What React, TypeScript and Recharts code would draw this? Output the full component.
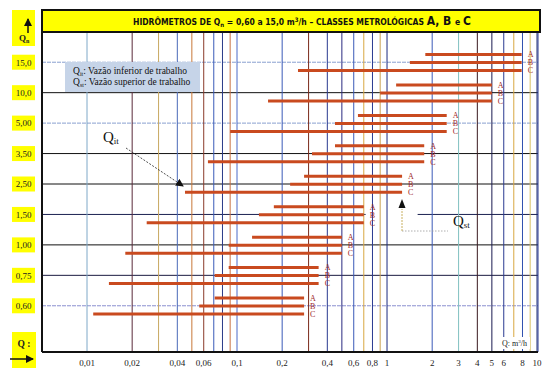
import { BarChart, Bar, XAxis, YAxis, CartesianGrid, LabelList } from 'recharts'

// Qn rows, top to bottom
const qnLabels = ['15,0', '10,0', '5,00', '3,50', '2,50', '1,50', '1,00', '0,75', '0,60']
// lower working flow (Qit) per class, m³/h
const classAStart = [1.8, 1.15, 0.64, 0.45, 0.28, 0.176, 0.126, 0.088, 0.071]
const classBStart = [1.42, 0.9, 0.45, 0.316, 0.226, 0.14, 0.088, 0.071, 0.056]
const classCStart = [0.255, 0.161, 0.09, 0.064, 0.045, 0.025, 0.018, 0.014, 0.011]
// upper working flow (Qst), same for A, B and C
const workEnd = [7.9, 5.0, 2.5, 1.77, 1.26, 0.7, 0.5, 0.35, 0.28]

// labelled ticks and the full log grid
const xLabels = [0.01, 0.02, 0.04, 0.06, 0.1, 0.2, 0.4, 0.6, 0.8, 1, 2, 3, 4, 5, 6, 8, 10]
const gridValues = [
  0.01, 0.02, 0.03, 0.04, 0.05, 0.06, 0.07, 0.08, 0.09,
  0.1, 0.2, 0.3, 0.4, 0.5, 0.6, 0.7, 0.8, 0.9,
  1, 2, 3, 4, 5, 6, 7, 8, 9, 10,
]
const gridColors = [
  '#7fa8c8', '#5a2a3a', '#c8a860', '#4a6ab8', '#c87838', '#8a3a2a', '#3a5ab8', '#2a3a88', '#c87040',
  '#4a6ac8', '#3a5ab8', '#7a2a1a', '#2a3a90', '#2a2a80', '#3a5ab8', '#d8a840', '#2a3a90', '#c8a050',
  '#1a2a80', '#3a5ab8', '#80c0c0', '#3a1a20', '#1a1a50', '#2a3a90', '#d8a840', '#3050b0', '#d8c060', '#1a2a70',
]
const rowLineColors = ['#8aa0d0', '#111111', '#8aa0d0', '#111111', '#111111', '#1a2050', '#111111', '#1a1a40', '#8a90d0']
const rowLineDashed = [true, false, true, false, false, false, false, false, true]

const data = qnLabels.map((qn, i) => ({
  qn,
  A: [classAStart[i], workEnd[i]],
  B: [classBStart[i], workEnd[i]],
  C: [classCStart[i], workEnd[i]],
}))

const X_MIN = 0.005012
const X_MAX = 10.15
const serif = "'Liberation Serif', 'DejaVu Serif', serif"
const barColor = '#c94a1f'
const letterColor = '#a0282a'
// the 1,50 row line is broken around the Qst note
const gapFrom = 0.72
const gapTo = 1.6

function QnTick(props: any) {
  const { y, payload } = props
  return (
    <g>
      <rect x={12} y={y - 7.5} width={23} height={15} fill="#ffff00" />
      <text x={23.5} y={y + 3.3} textAnchor="middle" fontSize={9} fontFamily={serif} fill="#222">
        {payload.value}
      </text>
    </g>
  )
}

const fmt = (v: number) => (xLabels.includes(v) ? String(v).replace('.', ',') : '')

function VLine(p: any) {
  return <line x1={p.x1} y1={p.y1} x2={p.x2} y2={p.y2} stroke={gridColors[p.index] || '#2a3a90'} strokeWidth={1} />
}

function HLine(p: any) {
  const i = p.index
  const stroke = rowLineColors[i] || '#111'
  const dash = rowLineDashed[i] ? '4 1' : undefined
  if (qnLabels[i] === '1,50') {
    const span = Math.log10(X_MAX) - Math.log10(X_MIN)
    const at = (v: number) => p.x1 + ((p.x2 - p.x1) * (Math.log10(v) - Math.log10(X_MIN))) / span
    return (
      <g>
        <line x1={p.x1} y1={p.y1} x2={at(gapFrom)} y2={p.y2} stroke={stroke} strokeWidth={1} />
        <line x1={at(gapTo)} y1={p.y1} x2={p.x2} y2={p.y2} stroke={stroke} strokeWidth={1} />
      </g>
    )
  }
  return <line x1={p.x1} y1={p.y1} x2={p.x2} y2={p.y2} stroke={stroke} strokeWidth={1} strokeDasharray={dash} />
}

export default function App() {
  return (
    <div style={{ position: 'absolute', left: 0, top: 0, width: 548, height: 380, background: '#fff' }}>
      <BarChart
        width={548}
        height={380}
        data={data}
        layout="vertical"
        barSize={3}
        barGap={5}
        margin={{ top: 32, right: 10, bottom: 0, left: 8 }}
      >
        <CartesianGrid vertical={<VLine />} horizontal={<HLine />} />
        <XAxis
          type="number"
          scale="log"
          domain={[X_MIN, X_MAX]}
          allowDataOverflow
          ticks={gridValues}
          interval={0}
          tickFormatter={fmt}
          tickLine={false}
          height={28}
          axisLine={{ stroke: '#111', strokeWidth: 2 }}
          tick={{ fontSize: 9, fill: '#222', fontFamily: serif }}
        />
        <YAxis
          type="category"
          dataKey="qn"
          width={34}
          padding={{ top: 15, bottom: 31 }}
          tickLine={false}
          axisLine={{ stroke: '#111', strokeWidth: 2 }}
          tick={<QnTick />}
        />
        <Bar dataKey="A" fill={barColor} isAnimationActive={false}>
          <LabelList position="right" offset={6} formatter={() => 'A'} fill={letterColor} fontSize={8} fontFamily={serif} />
        </Bar>
        <Bar dataKey="B" fill={barColor} isAnimationActive={false}>
          <LabelList position="right" offset={6} formatter={() => 'B'} fill={letterColor} fontSize={8} fontFamily={serif} />
        </Bar>
        <Bar dataKey="C" fill={barColor} isAnimationActive={false}>
          <LabelList position="right" offset={6} formatter={() => 'C'} fill={letterColor} fontSize={8} fontFamily={serif} />
        </Bar>
      </BarChart>

      <svg width={548} height={380} style={{ position: 'absolute', left: 0, top: 0, pointerEvents: 'none' }}>
        <defs>
          <marker id="head" markerWidth="8" markerHeight="8" refX="7" refY="4" orient="auto" markerUnits="userSpaceOnUse">
            <path d="M0,0 L8,4 L0,8 Z" fill="#111" />
          </marker>
        </defs>

        {/* title bar */}
        <rect x={42} y={10} width={498} height={22} fill="#ffff00" stroke="#111" strokeWidth={2} />
        <text
          x={133}
          y={25}
          fontSize={8.5}
          fontWeight="bold"
          fontFamily="'Liberation Sans Narrow', 'DejaVu Sans Condensed', 'Liberation Sans', sans-serif"
          fill="#111"
        >
          HIDRÔMETROS DE Q<tspan fontSize={6} dy={2}>n</tspan>
          <tspan dy={-2}> = 0,60 a 15,0 m</tspan>
          <tspan fontSize={6} dy={-3}>3</tspan>
          <tspan dy={3}>/h – CLASSES METROLÓGICAS </tspan>
          <tspan fontSize={12}>A, B </tspan>
          <tspan>e </tspan>
          <tspan fontSize={12}>C</tspan>
        </text>

        {/* Qn box */}
        <rect x={12} y={10} width={23} height={36} fill="#ffff00" />
        <line x1={28} y1={33} x2={28} y2={19} stroke="#111" strokeWidth={1.5} markerEnd="url(#head)" />
        <text x={19} y={41} fontSize={9} fontWeight="bold" fontFamily={serif} fill="#222">
          Q<tspan fontSize={6} dy={1.5}>n</tspan>
        </text>

        {/* Q box */}
        <rect x={12} y={332} width={24} height={36} fill="#ffff00" />
        <text x={24} y={347} textAnchor="middle" fontSize={9.5} fontWeight="bold" fontFamily={serif} fill="#222">
          Q :
        </text>
        <line x1={10} y1={359} x2={33} y2={359} stroke="#111" strokeWidth={1.5} markerEnd="url(#head)" />

        {/* legend box */}
        <rect x={65} y={62} width={135} height={30} fill="#c6d4e8" />
        <text x={73} y={74} fontSize={9.5} fontFamily={serif} fill="#111">
          Q<tspan fontSize={6} dy={1.5}>it</tspan>
          <tspan dy={-1.5}>: Vazão inferior de trabalho</tspan>
        </text>
        <text x={73} y={85} fontSize={9.5} fontFamily={serif} fill="#111">
          Q<tspan fontSize={6} dy={1.5}>st</tspan>
          <tspan dy={-1.5}>: Vazão superior de trabalho</tspan>
        </text>

        {/* Qit annotation */}
        <text x={103} y={142} fontSize={15} fontFamily={serif} fill="#111">
          Q<tspan fontSize={9} dy={2}>it</tspan>
        </text>
        <line x1={126} y1={148} x2={183} y2={186} stroke="#222" strokeWidth={0.8} strokeDasharray="2 1.5" markerEnd="url(#head)" />

        {/* Qst annotation */}
        <line x1={402} y1={231} x2={448} y2={231} stroke="#999" strokeWidth={0.8} strokeDasharray="1.5 1.5" />
        <line x1={402} y1={231} x2={402} y2={209} stroke="#c8b060" strokeWidth={1} strokeDasharray="2 1" />
        <path d="M402,199 L405.5,208 L398.5,208 Z" fill="#111" />
        <text x={453} y={226} fontSize={15} fontFamily={serif} fill="#111">
          Q<tspan fontSize={9} dy={2}>st</tspan>
        </text>

        {/* unit label */}
        <rect x={500} y={337} width={30} height={12} fill="#fff" />
        <text x={502} y={346} fontSize={8} fontFamily={serif} fill="#222">
          Q: m<tspan fontSize={5} dy={-3}>3</tspan>
          <tspan dy={3}>/h</tspan>
        </text>
      </svg>
    </div>
  )
}
